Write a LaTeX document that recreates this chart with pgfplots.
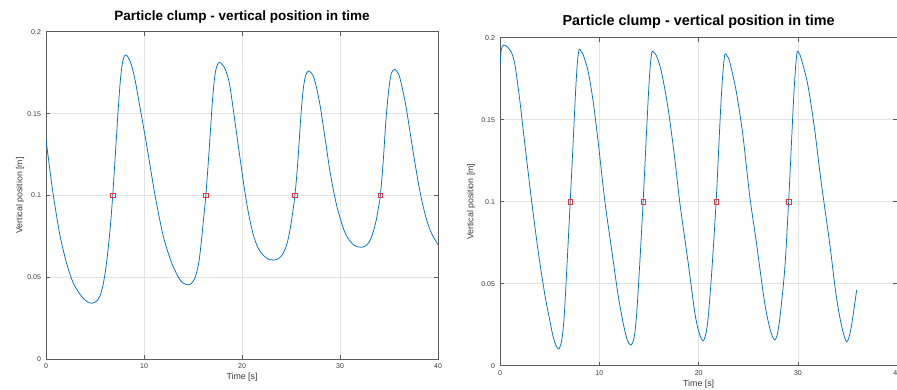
\documentclass[border=0pt]{standalone}
\usepackage{pgfplots}
\pgfplotsset{compat=1.18}
\usepackage{fontspec}
\setmainfont{Liberation Sans}
\definecolor{mblue}{HTML}{0072BD}
\definecolor{mred}{HTML}{E8333A}
\definecolor{gridc}{HTML}{E3E3E3}
\definecolor{axc}{HTML}{5A5A5A}
\definecolor{txc}{HTML}{3A3A3A}
\pgfplotsset{
  octave/.style={
    scale only axis,
    anchor=south west,
    xmin=0, xmax=40, ymin=0, ymax=0.2,
    xtick={0,10,20,30,40},
    ytick={0,0.05,0.1,0.15,0.2},
    yticklabels={0,0.05,0.1,0.15,0.2},
    xticklabels={0,10,20,30,40},
    grid=major,
    major grid style={gridc, line width=0.6pt},
    axis line style={axc, line width=0.7pt},
    major tick style={axc, line width=0.6pt},
    major tick length=4pt,
    tick align=inside,
    /pgf/number format/assume math mode=true,
    tick label style={font=\fontsize{7}{8}\selectfont, text=txc},
    yticklabel style={xshift=-1.5pt},
    xticklabel style={yshift=-1pt},
    label style={font=\fontsize{8.8}{10}\selectfont, text=txc},
    xlabel={Time [s]},
    ylabel={Vertical position [m]},
    title={Particle clump - vertical position in time},
  }
}
\begin{document}
\begin{tikzpicture}
\begin{axis}[octave,
  at={(46pt,29.7pt)}, width=392pt, height=327.6pt,
  title style={at={(axis description cs:0.5,1.0336)}, anchor=base, yshift=-6pt, font=\fontsize{13.5}{15}\selectfont\bfseries},
  xlabel style={at={(axis description cs:0.5,-0.054)}, anchor=center},
  ylabel style={at={(axis description cs:-0.066,0.5)}, anchor=center},
]
\addplot[mblue, line width=0.75pt, smooth, tension=0.5] coordinates {
(0,0.1339) (0.4,0.1155) (0.75,0.1000) (1.43,0.0755) (2.11,0.0585) (2.79,0.0465)
(3.64,0.0383) (4.2,0.0352) (4.67,0.0342) (5.1,0.0352) (5.5,0.0385) (5.86,0.0465)
(6.2,0.0600) (6.54,0.0795) (6.81,0.1000) (7.05,0.1225) (7.39,0.1545) (7.6,0.1710)
(7.8,0.1810) (8.0,0.1852) (8.17,0.1858) (8.4,0.1842) (8.7,0.1800) (9.09,0.1705)
(9.6,0.1535) (10.28,0.1305) (11.13,0.1000) (11.98,0.0749) (12.84,0.0586)
(13.69,0.0484) (14.37,0.0455) (14.8,0.0462) (15.2,0.0497) (15.56,0.0580)
(15.8,0.0690) (16.05,0.0840) (16.31,0.1000) (16.65,0.1280) (17.0,0.1590)
(17.25,0.1740) (17.5,0.1800) (17.72,0.1812) (18.0,0.1798) (18.3,0.1770)
(18.7,0.1690) (19.1,0.1530) (19.48,0.1365) (19.9,0.1185) (20.3,0.1020)
(20.7,0.0880) (21.18,0.0755) (21.6,0.0685) (22.03,0.0645) (22.6,0.0614)
(23.22,0.0606) (23.7,0.0614) (24.07,0.0635) (24.45,0.0680) (24.75,0.0745)
(25.05,0.0845) (25.4,0.1000) (25.7,0.1210) (26.0,0.1480) (26.25,0.1650)
(26.5,0.1735) (26.79,0.1760) (27.05,0.1750) (27.3,0.1725) (27.6,0.1660)
(27.99,0.1542) (28.5,0.1340) (29.01,0.1136) (29.69,0.0932) (30.54,0.0769)
(31.39,0.0698) (32.14,0.0684) (32.6,0.0692) (33.0,0.0718) (33.35,0.0770)
(33.7,0.0850) (33.95,0.0935) (34.12,0.1000) (34.4,0.1200) (34.7,0.1470)
(35.0,0.1660) (35.25,0.1748) (35.55,0.1770) (35.8,0.1758) (36.1,0.1720)
(36.67,0.1565) (37.1,0.1405) (37.52,0.1245) (38.0,0.1075) (38.38,0.0960)
(38.8,0.0860) (39.22,0.0785) (39.6,0.0740) (40,0.0700)
};
\addplot[only marks, mark=square, mred, mark size=2.2pt, mark options={line width=0.6pt}] coordinates {
(6.81,0.1) (16.31,0.1) (25.40,0.1) (34.12,0.1)
};
\end{axis}
\begin{axis}[octave,
  at={(500pt,23.3pt)}, width=397.3pt, height=328pt,
  title style={at={(axis description cs:0.5,1.0357)}, anchor=base, yshift=-6pt, font=\fontsize{14.4}{16}\selectfont\bfseries},
  xlabel style={at={(axis description cs:0.5,-0.055)}, anchor=center},
  ylabel style={at={(axis description cs:-0.073,0.5)}, anchor=center},
]
\addplot[mblue, line width=0.75pt, smooth, tension=0.5] coordinates {
(0,0.1834) (0.12,0.1925) (0.33,0.1955) (0.65,0.1948) (1.0,0.1925) (1.25,0.1895)
(1.51,0.1834) (1.75,0.1730) (2.01,0.1610) (2.51,0.1346) (3.18,0.1006) (3.85,0.0695)
(4.52,0.0431) (5.0,0.0280) (5.4,0.0165) (5.86,0.0102) (6.2,0.0150) (6.45,0.0290)
(6.70,0.0560) (7.07,0.1000) (7.37,0.1370) (7.6,0.1660) (7.78,0.1840) (7.97,0.1930)
(8.15,0.1918) (8.38,0.1895) (8.88,0.1793) (9.38,0.1610) (9.88,0.1366) (10.55,0.1006)
(11.22,0.0716) (11.89,0.0431) (12.4,0.0260) (12.8,0.0160) (13.17,0.0126) (13.5,0.0170)
(13.75,0.0310) (14.05,0.0600) (14.41,0.1000) (14.72,0.1385) (14.95,0.1660) (15.13,0.1830)
(15.31,0.1915) (15.5,0.1908) (15.75,0.1890) (16.25,0.1793) (16.92,0.1570) (17.59,0.1265)
(18.09,0.1000) (18.93,0.0634) (19.60,0.0329) (20.0,0.0210) (20.43,0.0152) (20.75,0.0200)
(21.0,0.0320) (21.35,0.0600) (21.76,0.1000) (22.05,0.1365) (22.28,0.1640) (22.47,0.1810)
(22.65,0.1900) (22.85,0.1890) (23.12,0.1854) (23.79,0.1671) (24.45,0.1407) (25.13,0.1041)
(25.80,0.0756) (26.63,0.0390) (27.2,0.0220) (27.64,0.0157) (27.95,0.0200) (28.25,0.0330)
(28.68,0.0600) (29.06,0.1000) (29.35,0.1365) (29.58,0.1650) (29.76,0.1820) (29.92,0.1915)
(30.1,0.1905) (30.32,0.1874) (30.99,0.1712) (31.66,0.1448) (32.33,0.1122) (33.17,0.0756)
(33.84,0.0431) (34.4,0.0240) (34.91,0.0146) (35.34,0.0228) (35.91,0.0462)
};
\addplot[only marks, mark=square, mred, mark size=2.2pt, mark options={line width=0.6pt}] coordinates {
(7.07,0.1) (14.41,0.1) (21.76,0.1) (29.06,0.1)
};
\end{axis}
\pgfresetboundingbox
\path (0,0) rectangle (897pt,389pt);
\end{tikzpicture}
\end{document}
